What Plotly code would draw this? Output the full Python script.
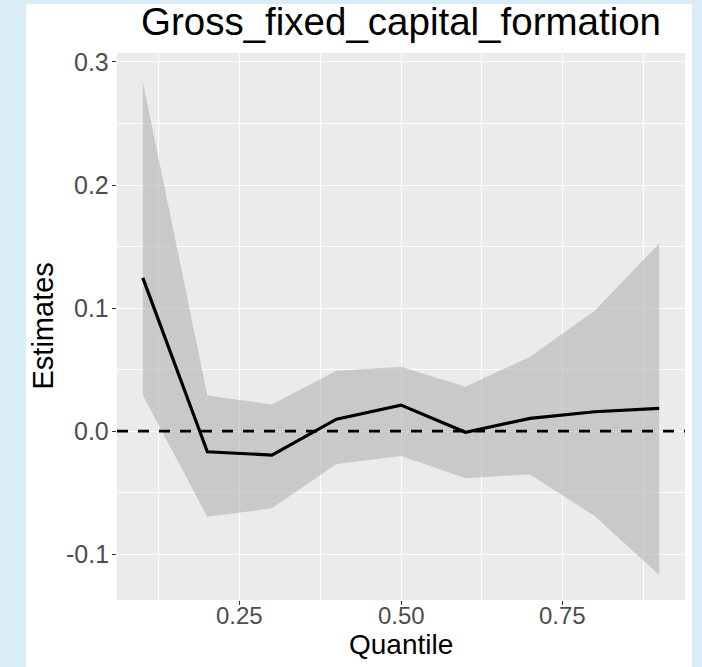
import plotly.graph_objects as go

# ---- data ----
quantiles = [0.1, 0.2, 0.3, 0.4, 0.5, 0.6, 0.7, 0.8, 0.9]
estimates = [0.1245, -0.0168, -0.0195, 0.0097, 0.0211, -0.0010, 0.0103, 0.0157, 0.0184]
upper = [0.284, 0.029, 0.0217, 0.049, 0.0522, 0.036, 0.0604, 0.0977, 0.1525]
lower = [0.029, -0.0696, -0.0628, -0.0268, -0.0203, -0.0384, -0.0352, -0.0690, -0.117]
x_ticks = [0.25, 0.50, 0.75]
x_tick_labels = ["0.25", "0.50", "0.75"]
y_ticks = [-0.1, 0.0, 0.1, 0.2, 0.3]
y_tick_labels = ["-0.1", "0.0", "0.1", "0.2", "0.3"]
reference_level = 0.0
title_text = "Gross_fixed_capital_formation"
x_title = "Quantile"
y_title = "Estimates"

X_RANGE = [0.06, 0.94]
Y_RANGE = [-0.1373, 0.3073]

FONT = "Liberation Sans, Arial, sans-serif"
TICK_COLOR = "#4D4D4D"

fig = go.Figure()

# ribbon
fig.add_trace(go.Scatter(x=quantiles, y=lower, mode="lines", line=dict(width=0),
                         hoverinfo="skip", showlegend=False))
fig.add_trace(go.Scatter(x=quantiles, y=upper, mode="lines", line=dict(width=0),
                         fill="tonexty", fillcolor="rgba(179,179,179,0.6)",
                         hoverinfo="skip", showlegend=False))
# dashed reference line
fig.add_trace(go.Scatter(x=X_RANGE, y=[reference_level] * len(X_RANGE), mode="lines",
                         line=dict(color="black", width=2.6, dash="11px,10px"),
                         hoverinfo="skip", showlegend=False))
# estimates
fig.add_trace(go.Scatter(x=quantiles, y=estimates, mode="lines",
                         line=dict(color="black", width=3.2),
                         showlegend=False))

L, R, T, B = 117, 17, 53, 67
W, H = 702, 667
pw, ph = W - L - R, H - T - B

def px_x(px):
    return (px - L) / pw

def px_y(py):
    return (H - B - py) / ph

# white figure card and grey panel (both beneath grid lines)
fig.add_shape(type="rect", xref="paper", yref="paper",
              x0=px_x(26), x1=px_x(692), y0=px_y(667), y1=px_y(4),
              fillcolor="white", line=dict(width=0), layer="below")
fig.add_shape(type="rect", xref="paper", yref="paper",
              x0=0, x1=1, y0=0, y1=1,
              fillcolor="#EBEBEB", line=dict(width=0), layer="below")

annotations = [
    dict(text=title_text, xref="paper", yref="paper", x=0.5, y=px_y(45),
         xanchor="center", yanchor="bottom", showarrow=False,
         font=dict(size=38.5, color="black", family=FONT)),
    dict(text=x_title, xref="paper", yref="paper", x=0.5, y=px_y(644),
         xanchor="center", yanchor="middle", showarrow=False, borderpad=0,
         font=dict(size=28, color="black", family=FONT)),
    dict(text=y_title, xref="paper", yref="paper", x=px_x(42), y=0.5,
         xanchor="center", yanchor="middle", showarrow=False, textangle=-90,
         font=dict(size=29, color="black", family=FONT)),
]
for v, t in zip(x_ticks, x_tick_labels):
    annotations.append(dict(text=t, xref="x", yref="paper", x=v, y=px_y(615),
                            xanchor="center", yanchor="middle", showarrow=False,
                            borderpad=0,
                            font=dict(size=24, color=TICK_COLOR, family=FONT)))
for v, t in zip(y_ticks, y_tick_labels):
    annotations.append(dict(text=t, xref="paper", yref="y", x=px_x(111), y=v,
                            xanchor="right", yanchor="middle", showarrow=False,
                            font=dict(size=25, color=TICK_COLOR, family=FONT)))

fig.update_layout(
    width=W, height=H,
    margin=dict(l=L, r=R, t=T, b=B, pad=0),
    paper_bgcolor="#D9EDF7",
    plot_bgcolor="rgba(0,0,0,0)",
    font=dict(family=FONT, color=TICK_COLOR),
    showlegend=False,
    annotations=annotations,
)

fig.update_xaxes(
    range=X_RANGE, tickvals=x_ticks, showticklabels=False,
    showgrid=True, gridcolor="white", gridwidth=1.4,
    minor=dict(dtick=0.125, tick0=0, showgrid=True, gridcolor="white", gridwidth=0.7, ticks=""),
    ticks="outside", ticklen=4, tickwidth=1.2, tickcolor="#333333",
    zeroline=False, showline=False,
)
fig.update_yaxes(
    range=Y_RANGE, tickvals=y_ticks, showticklabels=False,
    showgrid=True, gridcolor="white", gridwidth=1.4,
    minor=dict(dtick=0.05, tick0=0, showgrid=True, gridcolor="white", gridwidth=0.7, ticks=""),
    ticks="outside", ticklen=4, tickwidth=1.2, tickcolor="#333333",
    zeroline=False, showline=False,
)

fig.write_html("out.html")
